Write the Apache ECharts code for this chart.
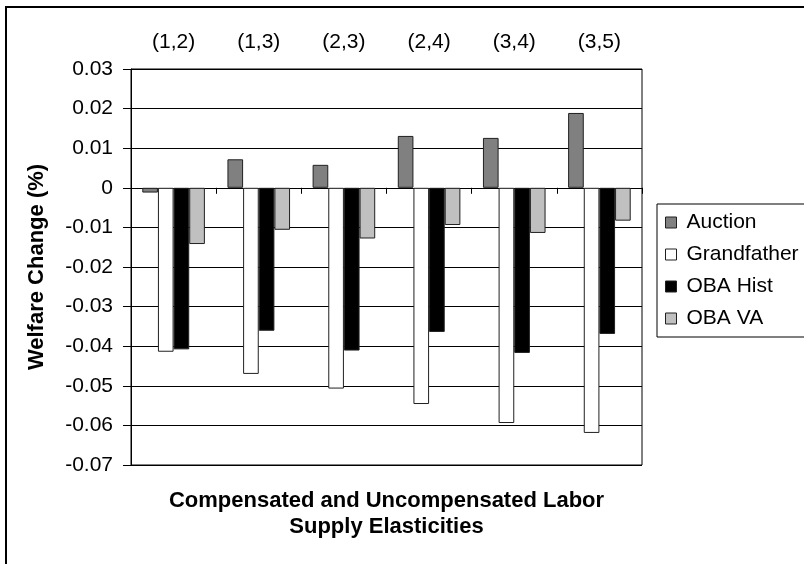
<!DOCTYPE html>
<html>
<head>
<meta charset="utf-8">
<script src="https://cdn.jsdelivr.net/npm/echarts@6/dist/echarts.min.js"></script>
<style>
  html, body { margin: 0; padding: 0; background: #fff; }
  #chart { width: 804px; height: 564px; }
</style>
</head>
<body>
<div id="chart"></div>
<script>
// Elasticity pairs (compensated, uncompensated)
const categories = ['(1,2)', '(1,3)', '(2,3)', '(2,4)', '(3,4)', '(3,5)'];

// Welfare change (%) by allocation scheme
const auction     = [-0.0012, 0.0072, 0.0058, 0.0131, 0.0126, 0.0189];
const grandfather = [-0.0414, -0.0470, -0.0507, -0.0546, -0.0594, -0.0619];
const obaHist     = [-0.0408, -0.0361, -0.0411, -0.0364, -0.0417, -0.0369];
const obaVA       = [-0.0142, -0.0106, -0.0128, -0.0094, -0.0114, -0.0083];

const seriesNames = ['Auction', 'Grandfather', 'OBA Hist', 'OBA VA'];
const seriesData = [auction, grandfather, obaHist, obaVA];
const fills = ['#808080', '#ffffff', '#000000', '#c0c0c0'];

const FONT = '"Liberation Sans", Arial, sans-serif';

const chart = echarts.init(document.getElementById('chart'), null, { renderer: 'canvas' });

const series = seriesNames.map((name, i) => ({
  name: name,
  type: 'bar',
  xAxisIndex: 0,
  yAxisIndex: 0,
  data: seriesData[i],
  barGap: '0%',
  barCategoryGap: '26.5%',
  itemStyle: { color: fills[i], borderColor: '#202020', borderWidth: 1 },
  emphasis: { disabled: true },
  animation: false
}));

chart.setOption({
  backgroundColor: '#ffffff',
  animation: false,
  textStyle: { fontFamily: FONT, color: '#000' },
  grid: {
    left: 131, right: 162, top: 69, bottom: 99,
    show: true, borderColor: '#000', borderWidth: 1, backgroundColor: 'transparent'
  },
  legend: {
    orient: 'vertical',
    left: 657, top: 204,
    padding: [8, 30, 8, 8],
    itemWidth: 11, itemHeight: 11, itemGap: 11,
    borderColor: '#000', borderWidth: 1, backgroundColor: '#fff',
    icon: 'rect',
    textStyle: { fontFamily: FONT, fontSize: 21, color: '#000', lineHeight: 20, padding: [0, 0, 0, 5] },
    data: seriesNames.map((n, i) => ({
      name: n,
      itemStyle: { color: fills[i], borderColor: '#202020', borderWidth: 1 }
    }))
  },
  xAxis: [
    {
      type: 'category',
      data: categories,
      position: 'bottom',
      axisLine: { onZero: true, lineStyle: { color: '#000', width: 1 } },
      axisTick: { show: true, length: 6, inside: false, lineStyle: { color: '#000' } },
      axisLabel: { show: false },
      splitLine: { show: false }
    },
    {
      type: 'category',
      data: categories,
      position: 'top',
      axisLine: { show: false, onZero: false },
      axisTick: { show: false },
      axisLabel: { show: true, margin: 16, fontFamily: FONT, fontSize: 21, color: '#000' },
      splitLine: { show: false }
    }
  ],
  yAxis: {
    type: 'value',
    min: -0.07, max: 0.03, interval: 0.01,
    axisLine: { show: true, lineStyle: { color: '#000', width: 1 } },
    axisTick: { show: true, length: 8, inside: false, lineStyle: { color: '#000' } },
    axisLabel: {
      margin: 18, fontFamily: FONT, fontSize: 21, color: '#000',
      formatter: v => String(Number(v.toFixed(2)))
    },
    splitLine: { show: true, lineStyle: { color: '#000', width: 1 } }
  },
  series: series,
  graphic: [
    {
      type: 'rect', silent: true, z: -10,
      shape: { x: 6, y: 7, width: 1000, height: 1000 },
      style: { fill: 'none', stroke: '#000', lineWidth: 2 }
    },
    {
      type: 'text', silent: true,
      x: 37, y: 267, rotation: Math.PI / 2,
      style: {
        text: 'Welfare Change (%)', fontFamily: FONT, fontSize: 22, fontWeight: 'bold',
        fill: '#000', align: 'center', verticalAlign: 'middle'
      }
    },
    {
      type: 'text', silent: true,
      x: 386.5, y: 501,
      style: {
        text: 'Compensated and Uncompensated Labor', fontFamily: FONT, fontSize: 22, fontWeight: 'bold',
        fill: '#000', align: 'center', verticalAlign: 'middle'
      }
    },
    {
      type: 'text', silent: true,
      x: 386.5, y: 527,
      style: {
        text: 'Supply Elasticities', fontFamily: FONT, fontSize: 22, fontWeight: 'bold',
        fill: '#000', align: 'center', verticalAlign: 'middle'
      }
    }
  ]
});
</script>
</body>
</html>
